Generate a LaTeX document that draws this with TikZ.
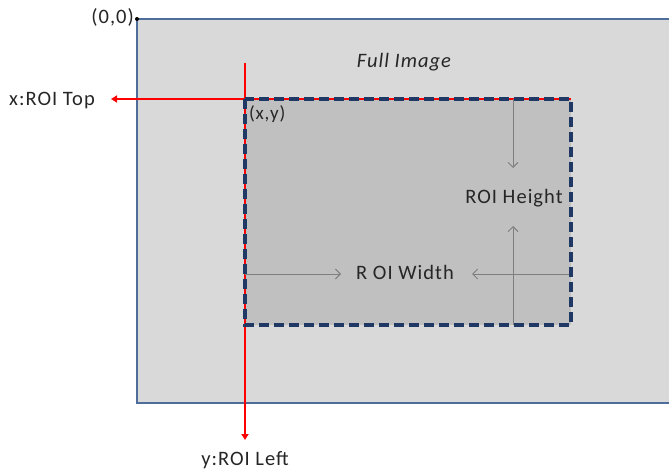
\documentclass[tikz,border=0pt]{standalone}
\usepackage{fontspec}
\setmainfont{Carlito}
\usetikzlibrary{arrows.meta}
\definecolor{outerfill}{HTML}{D9D9D9}
\definecolor{roifill}{HTML}{C0C0C0}
\definecolor{outerline}{HTML}{4F6D9A}
\definecolor{navy}{HTML}{1F3864}
\definecolor{redline}{HTML}{FF0000}
\definecolor{grayline}{HTML}{7F7F7F}
\tikzset{
  lbl/.style={font=\fontsize{20.5}{23}\selectfont\addfontfeature{LetterSpace=5}, text=black!85, inner sep=1pt},
  redarrow/.style={draw=redline, line width=2.6pt, -{Triangle[length=6pt,width=7pt]}},
  grayarrow/.style={draw=grayline, line width=0.9pt, -{Straight Barb[length=5pt,width=10pt]}},
}
\begin{document}
\begin{tikzpicture}[x=1pt,y=-1pt]
\useasboundingbox (0,0) rectangle (669,470);
% full image
\path[fill=outerfill] (137,19) rectangle (672,403);
\draw[outerline, line width=1.3pt] (672,19) -- (137,19) -- (137,403) -- (672,403);
% roi area
\path[fill=roifill] (245,99) rectangle (571,325);
% coordinates
\coordinate (origin) at (137,19);
\coordinate (roitl) at (245,99);
\coordinate (roitr) at (571,99);
\coordinate (roibl) at (245,325);
\coordinate (roibr) at (571,325);
\coordinate (redtop) at (245,63);
\coordinate (redleft) at (111,99);
\coordinate (redbottom) at (245,440);
\coordinate (hbase) at (513,99);
\coordinate (htip) at (513,168);
\coordinate (hbot) at (513,325);
\coordinate (htip2) at (513,226);
\coordinate (wl) at (245,274);
\coordinate (wtip) at (341,274);
\coordinate (wr) at (571,274);
\coordinate (wtip2) at (472,274);
% labels
\node[lbl, anchor=east] (origlbl) at (135,17) {(0,0)};
\fill[black] (origin) circle (2pt);
\node[lbl, font=\fontsize{20.5}{23}\selectfont\itshape\addfontfeature{LetterSpace=5}] (full) at (404,62) {Full Image};
\node[lbl, anchor=west] (xlbl) at (8,101) {x:ROI Top};
\node[lbl] (ylbl) at (245,460) {y:ROI Left};
\node[lbl, anchor=north west, font=\fontsize{19}{22}\selectfont\addfontfeature{LetterSpace=4}] (xy) at (248,104) {(x,y)};
\node[lbl] (hlbl) at (514,198) {ROI Height};
\node[lbl] (wlbl) at (405,272) {R OI Width};
% red lines
\draw[redarrow] (roitr) -- (redleft);
\draw[redarrow] (redtop) -- (redbottom);
% gray arrows
\draw[grayarrow] (hbase) -- (htip);
\draw[grayarrow] (hbot) -- (htip2);
\draw[grayarrow] (wl) -- (wtip);
\draw[grayarrow] (wr) -- (wtip2);
% dashed roi border
\draw[navy, line width=3.2pt, dash pattern=on 10pt off 5pt] (roitl) rectangle (roibr);
\end{tikzpicture}
\end{document}
